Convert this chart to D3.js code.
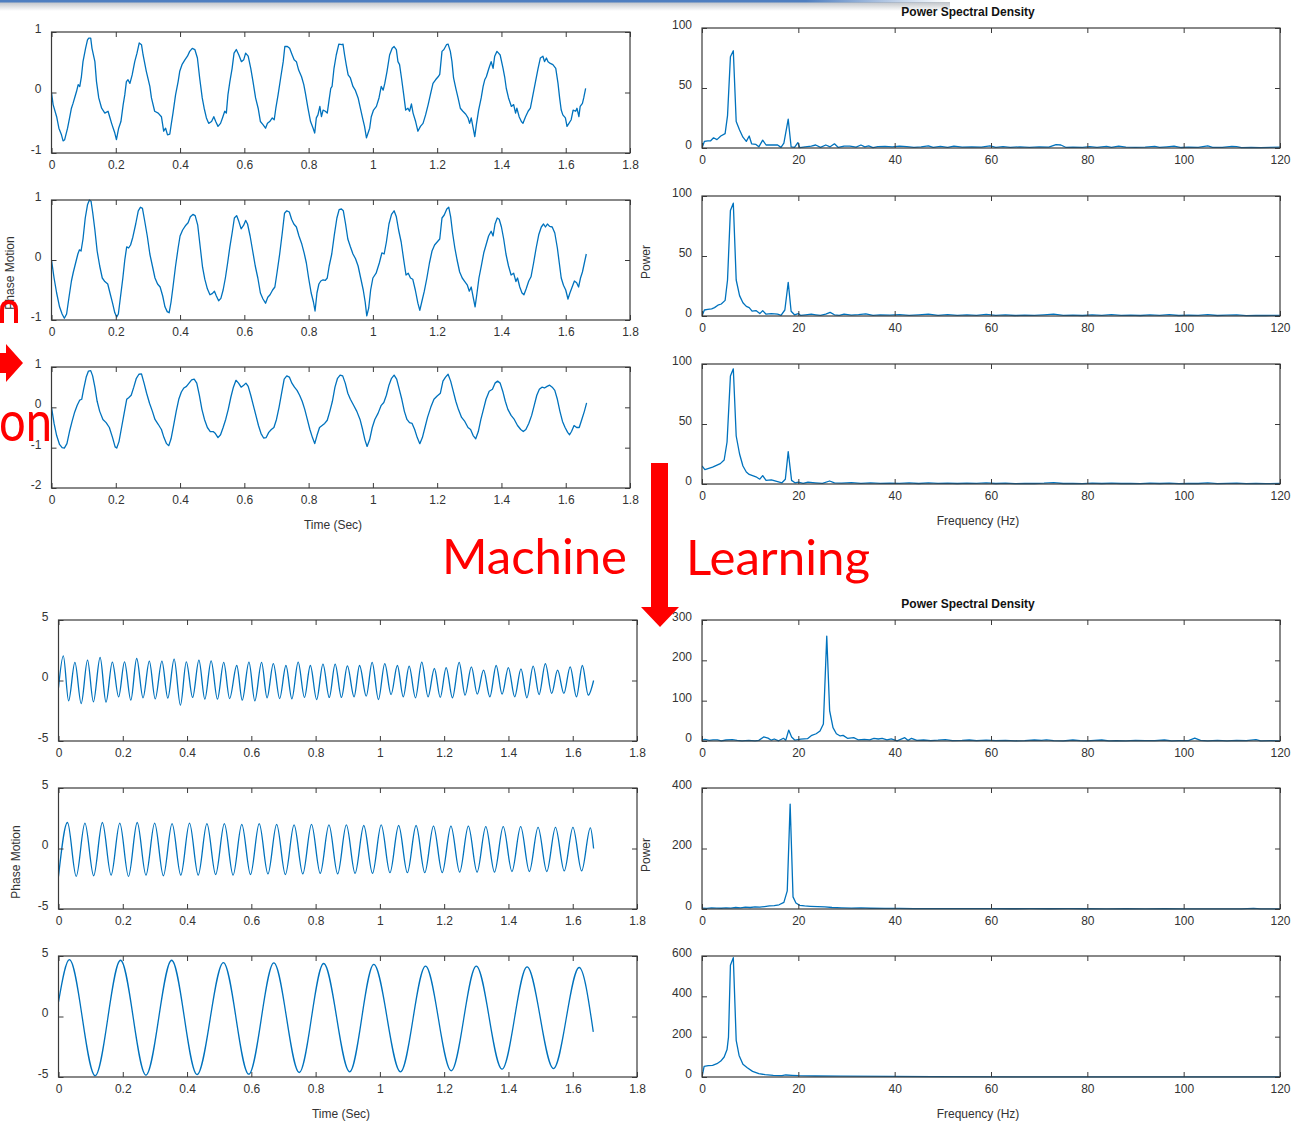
<!DOCTYPE html>
<html><head><meta charset="utf-8">
<script src="https://cdn.jsdelivr.net/npm/d3@7"></script>
<style>
html,body{margin:0;padding:0;background:#fff;}
svg{display:block;}
</style></head>
<body>
<svg id="chart" width="1297" height="1125"></svg>
<script>
// ---------------- DATA ----------------
const timeTicks = [0, 0.2, 0.4, 0.6, 0.8, 1, 1.2, 1.4, 1.6, 1.8];
const freqTicks = [0, 20, 40, 60, 80, 100, 120];
const ticksPhaseA = [-1, 0, 1];
const ticksPhaseB = [-2, -1, 0, 1];
const ticksPhaseC = [-5, 0, 5];
const ticksPow100 = [0, 50, 100];
const ticksPow300 = [0, 100, 200, 300];
const ticksPow400 = [0, 200, 400];
const ticksPow600 = [0, 200, 400, 600];

// [time (s), phase motion]
const ts1 = [[0,0],[0.005,-0.2],[0.016,-0.4],[0.023,-0.59],[0.031,-0.7],[0.036,-0.8],[0.041,-0.78],[0.05,-0.59],[0.057,-0.4],[0.062,-0.26],[0.067,-0.18],[0.073,-0.07],[0.078,0.02],[0.083,0.13],[0.088,0.1],[0.093,0.26],[0.098,0.51],[0.106,0.73],[0.112,0.87],[0.116,0.9],[0.122,0.9],[0.126,0.73],[0.135,0.51],[0.14,0.18],[0.147,-0.09],[0.156,-0.26],[0.166,-0.34],[0.176,-0.31],[0.181,-0.4],[0.187,-0.51],[0.192,-0.59],[0.197,-0.67],[0.202,-0.78],[0.209,-0.59],[0.216,-0.48],[0.223,-0.2],[0.228,-0.04],[0.233,0.18],[0.238,0.21],[0.244,0.15],[0.251,0.29],[0.259,0.51],[0.266,0.65],[0.273,0.82],[0.28,0.79],[0.285,0.62],[0.295,0.35],[0.306,0.1],[0.311,-0.09],[0.321,-0.31],[0.332,-0.34],[0.342,-0.4],[0.349,-0.64],[0.355,-0.59],[0.361,-0.7],[0.368,-0.69],[0.373,-0.51],[0.378,-0.34],[0.386,-0.04],[0.394,0.18],[0.399,0.35],[0.406,0.46],[0.415,0.54],[0.423,0.6],[0.43,0.68],[0.438,0.73],[0.446,0.71],[0.454,0.57],[0.461,0.24],[0.469,-0.09],[0.475,-0.26],[0.482,-0.42],[0.489,-0.51],[0.498,-0.48],[0.505,-0.4],[0.511,-0.48],[0.518,-0.56],[0.526,-0.51],[0.532,-0.42],[0.539,-0.31],[0.544,-0.34],[0.549,-0.04],[0.555,0.18],[0.562,0.4],[0.568,0.65],[0.575,0.71],[0.583,0.62],[0.591,0.51],[0.598,0.54],[0.604,0.65],[0.612,0.6],[0.62,0.4],[0.627,0.18],[0.635,-0.09],[0.643,-0.26],[0.65,-0.48],[0.658,-0.53],[0.666,-0.59],[0.672,-0.51],[0.679,-0.48],[0.687,-0.42],[0.693,-0.45],[0.698,-0.26],[0.705,-0.04],[0.713,0.24],[0.721,0.51],[0.726,0.76],[0.734,0.76],[0.741,0.73],[0.749,0.62],[0.755,0.54],[0.762,0.51],[0.769,0.37],[0.778,0.26],[0.785,0.13],[0.79,-0.01],[0.798,-0.26],[0.806,-0.48],[0.814,-0.59],[0.819,-0.67],[0.824,-0.42],[0.829,-0.37],[0.835,-0.23],[0.84,-0.4],[0.845,-0.29],[0.852,-0.31],[0.858,-0.34],[0.863,-0.15],[0.869,0.07],[0.873,0.1],[0.879,0.4],[0.886,0.62],[0.894,0.8],[0.904,0.79],[0.907,0.8],[0.912,0.62],[0.917,0.46],[0.923,0.29],[0.93,0.24],[0.938,0.1],[0.945,0.04],[0.954,-0.09],[0.961,-0.26],[0.969,-0.45],[0.974,-0.56],[0.98,-0.75],[0.985,-0.67],[0.99,-0.59],[0.995,-0.4],[1.002,-0.29],[1.011,-0.23],[1.019,-0.09],[1.026,0.1],[1.032,0.04],[1.037,0.15],[1.044,0.35],[1.052,0.62],[1.06,0.73],[1.066,0.76],[1.073,0.71],[1.078,0.51],[1.083,0.46],[1.089,0.24],[1.096,-0.04],[1.102,-0.29],[1.109,-0.26],[1.114,-0.31],[1.12,-0.19],[1.125,-0.34],[1.133,-0.48],[1.14,-0.64],[1.148,-0.56],[1.156,-0.51],[1.164,-0.37],[1.172,-0.2],[1.18,-0.01],[1.187,0.15],[1.195,0.21],[1.203,0.26],[1.208,0.3],[1.215,0.68],[1.221,0.71],[1.229,0.79],[1.234,0.8],[1.241,0.68],[1.246,0.51],[1.251,0.24],[1.258,0.07],[1.265,-0.09],[1.272,-0.26],[1.28,-0.31],[1.289,-0.36],[1.296,-0.42],[1.301,-0.51],[1.306,-0.42],[1.311,-0.56],[1.317,-0.73],[1.322,-0.53],[1.329,-0.29],[1.337,-0.09],[1.343,0.1],[1.348,0.21],[1.353,0.26],[1.361,0.4],[1.368,0.51],[1.374,0.4],[1.379,0.6],[1.386,0.68],[1.391,0.65],[1.396,0.62],[1.405,0.4],[1.41,0.26],[1.415,0.07],[1.422,-0.09],[1.431,-0.23],[1.438,-0.2],[1.444,-0.34],[1.448,-0.26],[1.455,-0.4],[1.462,-0.48],[1.467,-0.51],[1.475,-0.4],[1.483,-0.31],[1.49,-0.26],[1.498,-0.04],[1.506,0.18],[1.514,0.4],[1.521,0.57],[1.529,0.6],[1.534,0.51],[1.54,0.57],[1.545,0.51],[1.552,0.48],[1.56,0.46],[1.569,0.4],[1.576,0.15],[1.581,-0.09],[1.586,-0.29],[1.591,-0.37],[1.599,-0.42],[1.604,-0.56],[1.61,-0.51],[1.617,-0.45],[1.623,-0.29],[1.631,-0.31],[1.635,-0.26],[1.641,-0.4],[1.645,-0.23],[1.652,-0.18],[1.656,-0.09],[1.662,0.07]];

const ts2 = [[0,0],[0.008,-0.3],[0.016,-0.55],[0.025,-0.78],[0.033,-0.9],[0.04,-0.97],[0.047,-0.9],[0.055,-0.6],[0.062,-0.35],[0.068,-0.2],[0.075,-0.05],[0.082,0.1],[0.087,0.17],[0.092,0.15],[0.098,0.35],[0.105,0.7],[0.112,0.92],[0.118,1.0],[0.123,0.98],[0.128,0.8],[0.135,0.5],[0.142,0.15],[0.15,-0.1],[0.158,-0.3],[0.166,-0.36],[0.175,-0.4],[0.182,-0.55],[0.19,-0.72],[0.197,-0.88],[0.203,-0.95],[0.208,-0.9],[0.215,-0.6],[0.222,-0.3],[0.228,0.0],[0.234,0.22],[0.24,0.2],[0.246,0.25],[0.253,0.38],[0.262,0.6],[0.27,0.82],[0.277,0.88],[0.283,0.86],[0.29,0.65],[0.298,0.4],[0.306,0.1],[0.314,-0.1],[0.322,-0.3],[0.33,-0.4],[0.338,-0.45],[0.346,-0.6],[0.353,-0.78],[0.36,-0.86],[0.366,-0.88],[0.372,-0.7],[0.378,-0.45],[0.386,-0.1],[0.394,0.2],[0.4,0.4],[0.408,0.5],[0.418,0.58],[0.425,0.62],[0.432,0.72],[0.44,0.76],[0.447,0.74],[0.455,0.58],[0.462,0.25],[0.47,-0.12],[0.477,-0.32],[0.485,-0.48],[0.493,-0.58],[0.5,-0.56],[0.507,-0.52],[0.513,-0.6],[0.52,-0.68],[0.527,-0.64],[0.534,-0.5],[0.541,-0.3],[0.548,-0.05],[0.555,0.22],[0.562,0.45],[0.569,0.7],[0.576,0.74],[0.583,0.64],[0.59,0.52],[0.598,0.58],[0.604,0.66],[0.61,0.6],[0.618,0.4],[0.626,0.15],[0.634,-0.1],[0.642,-0.3],[0.65,-0.55],[0.658,-0.65],[0.666,-0.72],[0.673,-0.62],[0.68,-0.58],[0.688,-0.5],[0.695,-0.45],[0.702,-0.2],[0.71,0.1],[0.718,0.45],[0.725,0.78],[0.732,0.82],[0.74,0.8],[0.747,0.68],[0.754,0.6],[0.762,0.55],[0.77,0.4],[0.778,0.28],[0.786,0.12],[0.793,-0.05],[0.8,-0.3],[0.808,-0.55],[0.815,-0.7],[0.82,-0.85],[0.826,-0.55],[0.832,-0.4],[0.838,-0.35],[0.845,-0.33],[0.852,-0.34],[0.858,-0.3],[0.864,-0.1],[0.872,0.1],[0.88,0.42],[0.888,0.7],[0.895,0.84],[0.902,0.85],[0.908,0.82],[0.915,0.6],[0.922,0.35],[0.93,0.22],[0.938,0.1],[0.946,0.02],[0.954,-0.1],[0.962,-0.3],[0.97,-0.5],[0.976,-0.7],[0.981,-0.93],[0.987,-0.8],[0.993,-0.5],[1.0,-0.3],[1.01,-0.22],[1.02,-0.05],[1.028,0.12],[1.035,0.1],[1.042,0.3],[1.05,0.6],[1.058,0.76],[1.066,0.82],[1.073,0.72],[1.08,0.5],[1.088,0.3],[1.096,0.0],[1.103,-0.25],[1.11,-0.22],[1.117,-0.3],[1.124,-0.32],[1.132,-0.5],[1.14,-0.72],[1.146,-0.84],[1.152,-0.7],[1.16,-0.52],[1.168,-0.3],[1.176,-0.05],[1.184,0.15],[1.192,0.25],[1.2,0.3],[1.208,0.35],[1.215,0.7],[1.222,0.75],[1.23,0.85],[1.236,0.88],[1.242,0.72],[1.248,0.45],[1.255,0.2],[1.262,0.0],[1.27,-0.2],[1.278,-0.3],[1.286,-0.36],[1.294,-0.42],[1.3,-0.52],[1.306,-0.45],[1.312,-0.62],[1.318,-0.78],[1.324,-0.55],[1.33,-0.3],[1.338,-0.08],[1.345,0.12],[1.352,0.25],[1.36,0.4],[1.368,0.48],[1.374,0.4],[1.38,0.6],[1.387,0.7],[1.393,0.68],[1.4,0.55],[1.407,0.35],[1.414,0.1],[1.422,-0.1],[1.43,-0.25],[1.438,-0.22],[1.445,-0.36],[1.45,-0.3],[1.457,-0.45],[1.464,-0.55],[1.47,-0.58],[1.477,-0.48],[1.485,-0.35],[1.492,-0.28],[1.5,-0.05],[1.508,0.2],[1.516,0.42],[1.524,0.55],[1.531,0.6],[1.537,0.55],[1.543,0.6],[1.55,0.56],[1.558,0.55],[1.566,0.45],[1.574,0.2],[1.58,-0.05],[1.586,-0.3],[1.593,-0.42],[1.6,-0.5],[1.607,-0.65],[1.613,-0.55],[1.62,-0.45],[1.627,-0.35],[1.634,-0.38],[1.64,-0.45],[1.646,-0.3],[1.652,-0.2],[1.658,-0.05],[1.664,0.1]];

const ts3 = [[0,0],[0.008,-0.4],[0.016,-0.7],[0.025,-0.92],[0.033,-1.0],[0.04,-1.01],[0.048,-0.9],[0.056,-0.6],[0.064,-0.35],[0.072,-0.12],[0.08,0.05],[0.088,0.18],[0.094,0.2],[0.1,0.45],[0.108,0.75],[0.115,0.9],[0.122,0.91],[0.128,0.78],[0.135,0.5],[0.142,0.15],[0.15,-0.1],[0.16,-0.3],[0.17,-0.38],[0.18,-0.5],[0.19,-0.75],[0.198,-0.98],[0.203,-1.01],[0.21,-0.85],[0.218,-0.5],[0.226,-0.15],[0.234,0.2],[0.24,0.24],[0.248,0.3],[0.256,0.5],[0.264,0.72],[0.272,0.82],[0.28,0.83],[0.288,0.6],[0.296,0.35],[0.305,0.1],[0.314,-0.1],[0.322,-0.3],[0.332,-0.42],[0.342,-0.55],[0.35,-0.75],[0.358,-0.9],[0.365,-0.95],[0.372,-0.78],[0.38,-0.45],[0.388,-0.1],[0.396,0.2],[0.404,0.38],[0.412,0.48],[0.42,0.52],[0.428,0.6],[0.436,0.68],[0.444,0.7],[0.452,0.6],[0.46,0.3],[0.468,-0.05],[0.476,-0.3],[0.485,-0.5],[0.494,-0.6],[0.503,-0.6],[0.51,-0.65],[0.518,-0.75],[0.526,-0.68],[0.534,-0.5],[0.542,-0.3],[0.55,-0.05],[0.558,0.25],[0.566,0.5],[0.574,0.67],[0.582,0.6],[0.59,0.5],[0.598,0.55],[0.605,0.6],[0.612,0.52],[0.62,0.3],[0.628,0.05],[0.636,-0.2],[0.644,-0.45],[0.652,-0.65],[0.66,-0.76],[0.668,-0.75],[0.676,-0.62],[0.684,-0.55],[0.692,-0.5],[0.7,-0.3],[0.708,0.0],[0.716,0.35],[0.724,0.7],[0.732,0.78],[0.74,0.75],[0.748,0.6],[0.756,0.5],[0.764,0.42],[0.772,0.3],[0.78,0.15],[0.788,-0.05],[0.796,-0.3],[0.804,-0.55],[0.812,-0.75],[0.819,-0.9],[0.826,-0.7],[0.834,-0.5],[0.842,-0.45],[0.85,-0.4],[0.858,-0.32],[0.866,-0.1],[0.874,0.15],[0.882,0.5],[0.89,0.72],[0.898,0.8],[0.906,0.78],[0.914,0.6],[0.922,0.35],[0.93,0.2],[0.94,0.05],[0.95,-0.1],[0.96,-0.3],[0.968,-0.55],[0.975,-0.8],[0.982,-0.97],[0.99,-0.8],[0.998,-0.5],[1.006,-0.3],[1.016,-0.15],[1.026,0.05],[1.034,0.12],[1.042,0.3],[1.05,0.55],[1.058,0.72],[1.066,0.8],[1.074,0.7],[1.082,0.45],[1.09,0.2],[1.098,-0.1],[1.106,-0.3],[1.114,-0.38],[1.122,-0.4],[1.13,-0.55],[1.138,-0.75],[1.146,-0.9],[1.154,-0.75],[1.162,-0.5],[1.17,-0.25],[1.18,0.0],[1.19,0.2],[1.2,0.28],[1.21,0.35],[1.218,0.65],[1.226,0.75],[1.234,0.82],[1.242,0.65],[1.25,0.4],[1.258,0.15],[1.266,-0.05],[1.276,-0.25],[1.286,-0.35],[1.296,-0.5],[1.304,-0.55],[1.312,-0.7],[1.32,-0.78],[1.328,-0.6],[1.336,-0.3],[1.344,-0.05],[1.352,0.2],[1.362,0.4],[1.372,0.45],[1.38,0.6],[1.388,0.65],[1.396,0.6],[1.404,0.4],[1.412,0.15],[1.42,-0.05],[1.43,-0.2],[1.44,-0.3],[1.45,-0.45],[1.46,-0.55],[1.468,-0.6],[1.476,-0.55],[1.485,-0.4],[1.494,-0.2],[1.502,0.05],[1.51,0.3],[1.518,0.45],[1.526,0.5],[1.534,0.48],[1.542,0.52],[1.55,0.55],[1.558,0.5],[1.566,0.42],[1.574,0.2],[1.582,-0.1],[1.59,-0.35],[1.598,-0.5],[1.606,-0.62],[1.612,-0.68],[1.618,-0.6],[1.626,-0.45],[1.634,-0.5],[1.642,-0.5],[1.65,-0.3],[1.658,-0.1],[1.665,0.11]];

// extrema of the filtered signals (bottom section)
const ts4 = [[0,-0.6],[0.015,2.04],[0.0314,-1.68],[0.051,1.49],[0.0706,-1.9],[0.0903,1.68],[0.1086,-1.76],[0.1295,1.9],[0.1478,-1.79],[0.1675,1.52],[0.1871,-1.35],[0.2054,1.54],[0.225,-1.63],[0.2433,1.82],[0.263,-1.43],[0.2826,1.6],[0.3009,-1.52],[0.3218,1.6],[0.3401,-1.46],[0.3598,1.76],[0.3794,-2.04],[0.3977,1.54],[0.4173,-1.4],[0.4369,1.68],[0.4553,-1.54],[0.4749,1.63],[0.4945,-1.54],[0.5141,1.49],[0.5324,-1.49],[0.5547,1.24],[0.5717,-1.63],[0.5926,1.52],[0.6109,-1.68],[0.6319,1.49],[0.6489,-1.43],[0.6685,1.4],[0.6881,-1.49],[0.7077,1.24],[0.7261,-1.52],[0.7457,1.52],[0.7653,-1.4],[0.7836,1.24],[0.8032,-1.57],[0.8229,1.35],[0.8425,-1.4],[0.8608,1.35],[0.8804,-1.4],[0.8988,1.21],[0.9197,-1.35],[0.9367,1.24],[0.9576,-1.29],[0.9759,1.49],[0.9955,-1.57],[1.0152,1.4],[1.0348,-1.16],[1.0544,1.24],[1.0727,-1.35],[1.091,1.18],[1.1107,-1.43],[1.1303,1.52],[1.1499,-1.35],[1.1695,0.99],[1.1879,-1.4],[1.2062,1.07],[1.2258,-1.43],[1.2467,1.49],[1.265,-1.21],[1.2847,1.13],[1.303,-1.13],[1.3226,0.85],[1.3422,-1.35],[1.3619,1.24],[1.3802,-1.13],[1.3998,1.07],[1.4194,-1.35],[1.439,0.96],[1.4574,-1.43],[1.477,1.18],[1.4953,-1.16],[1.5149,1.4],[1.5345,-1.07],[1.5529,0.85],[1.5725,-1.07],[1.5921,1.13],[1.6117,-1.35],[1.63,1.24],[1.6484,-1.21],[1.665,0]];

const ts5 = [[0,-2.3],[0.028,2.15],[0.0551,-2.3],[0.0822,2.1],[0.1094,-2.25],[0.1365,2.15],[0.1636,-2.2],[0.1907,2.1],[0.2178,-2.3],[0.2449,2.15],[0.2721,-2.2],[0.2992,2.1],[0.3263,-2.25],[0.3534,2.05],[0.3805,-2.2],[0.4076,2.1],[0.4347,-2.2],[0.4618,2.05],[0.489,-2.15],[0.5161,2.05],[0.5432,-2.2],[0.5703,2.0],[0.5974,-2.15],[0.6245,2.05],[0.6517,-2.1],[0.6788,2.0],[0.7059,-2.15],[0.733,1.95],[0.7601,-2.1],[0.7872,2.0],[0.8144,-2.05],[0.8415,1.95],[0.8686,-2.1],[0.8957,1.95],[0.9228,-2.05],[0.9499,1.9],[0.977,-2.05],[1.0041,1.95],[1.0313,-2.0],[1.0584,1.9],[1.0855,-2.0],[1.1126,1.9],[1.1397,-2.0],[1.1668,1.85],[1.194,-2.0],[1.2211,1.85],[1.2482,-1.95],[1.2753,1.85],[1.3024,-1.95],[1.3295,1.8],[1.3566,-1.95],[1.3838,1.8],[1.4109,-1.9],[1.438,1.8],[1.4651,-1.9],[1.4922,1.75],[1.5193,-1.9],[1.5464,1.75],[1.5736,-1.85],[1.6007,1.75],[1.6278,-1.85],[1.6549,1.7],[1.665,0]];

const ts6 = [[0,1.2],[0.034,4.7],[0.114,-4.9],[0.193,4.65],[0.272,-4.85],[0.352,4.65],[0.431,-4.8],[0.513,4.46],[0.592,-4.77],[0.67,4.43],[0.749,-4.63],[0.825,4.38],[0.906,-4.57],[0.981,4.3],[1.064,-4.57],[1.142,4.16],[1.222,-4.49],[1.3,4.16],[1.38,-4.35],[1.458,4.1],[1.54,-4.3],[1.62,4.05],[1.664,-1.27]];

// [frequency (Hz), power]
const psd1 = [[0,0],[0.5,5.5],[1.2,6],[1.8,6],[2.4,8.5],[3.1,7],[3.9,10],[4.8,12],[5.3,27],[5.9,76],[6.5,81],[7.1,22],[7.8,15],[8.5,9],[9.2,5.5],[9.8,10],[10.3,3.5],[11.2,3],[11.8,1],[12.6,6.5],[13.3,2.5],[14.4,2.5],[15.7,2.5],[16.4,0.5],[17,4],[17.9,24],[18.5,1],[19.2,0.5],[19.9,4.5],[20.3,0.3],[21.4,1],[22.7,1.5],[23.6,2.5],[24.6,0.5],[25.7,2.5],[26.6,1],[27.5,3.5],[28.3,0.5],[29.5,1.5],[30.7,1.5],[32,0.8],[33,2.5],[33.8,1],[34.6,1.8],[35.5,0.3],[36.5,1.2],[38,1.3],[39.5,1],[41,1.5],[42.5,1.2],[44,0.6],[45.5,1],[47,1.8],[48,0.5],[49.5,1.4],[51,0.6],[52.3,1.5],[54,0.8],[56,1],[58,0.7],[59.8,1.7],[61,0.6],[62.5,1.2],[64,0.5],[66,1],[68,0.6],[70,1],[72,0.7],[73.5,2.8],[74.5,2.5],[75.5,0.6],[77,0.8],[79,0.5],[80.5,1.2],[82,0.6],[84,1.3],[85,0.5],[86.5,1.6],[88,0.7],[90,0.6],[92,0.8],[94,1.3],[95,0.5],[96.5,1],[98,1.5],[99.5,0.4],[101,0.8],[103,0.6],[105,1.7],[106,0.5],[108,0.6],[110,1.3],[111,1.2],[112,0.3],[114,0.6],[116,0.3],[118,0.6],[120,0.8]];

const psd2 = [[0,0],[0.5,5],[1.2,5.5],[2,6],[2.6,7],[3.3,9],[4,10],[4.8,13],[5.3,30],[5.9,88],[6.5,94],[7.1,30],[7.8,17],[8.5,11],[9.2,8],[9.8,7],[10.4,4],[11.2,4.5],[12,2],[12.6,4.5],[13.3,1.5],[14.4,2],[15.7,1.5],[16.4,0.5],[17.2,5],[17.9,28],[18.5,4],[19.2,1],[20,2],[20.5,0.5],[21.5,1],[22.7,1.5],[23.6,1],[24.6,0.5],[25.7,1.5],[26.6,3],[27.5,1],[28.5,0.5],[29.5,1.5],[31,0.8],[32.5,1.2],[34,1.8],[35.5,0.5],[37,1],[39,0.8],[41,1.2],[43,0.5],[45,1],[47,1.5],[49,0.6],[51,1.2],[53,0.5],[55,0.9],[57,0.6],[59,1.4],[61,0.5],[63,1],[65,0.4],[67,0.8],[69,0.5],[71,1],[73,1.5],[75,0.6],[77,0.8],[79,0.4],[81,1],[83,0.5],[85,1.2],[87,0.6],[89,0.8],[91,0.4],[93,1],[95,0.6],[97,1.2],[99,0.4],[101,0.8],[103,0.5],[105,1.2],[107,0.4],[109,0.8],[111,1],[113,0.3],[115,0.6],[117,0.4],[120,0.6]];

const psd3 = [[0,15],[0.6,12],[1.4,13],[2.2,14],[3,15.5],[3.8,17],[4.6,20],[5.2,35],[5.9,90],[6.5,96],[7.1,40],[7.8,25],[8.5,15],[9.2,10],[9.8,8],[10.5,7],[11.2,6],[12,4],[12.6,7],[13.3,3],[14.4,3.5],[15.7,2],[16.6,1],[17.3,4],[17.9,27],[18.6,3],[19.3,1],[20,1.5],[21,0.5],[22,1.5],[23.5,1],[25,0.5],[26.5,2.5],[27.5,1],[29,0.8],[31,1.2],[33,0.6],[35,1],[37,0.5],[39,0.8],[41,0.6],[43,1],[45,0.4],[47,0.9],[49,0.5],[51,0.8],[53,0.4],[55,0.7],[57,0.5],[59,0.9],[61,0.4],[63,0.7],[65,0.3],[67,0.6],[69,0.4],[71,0.7],[73,1.2],[75,0.4],[77,0.6],[79,0.3],[81,0.7],[83,0.4],[85,0.8],[87,0.4],[89,0.6],[91,0.3],[93,0.7],[95,0.4],[97,0.8],[99,0.3],[101,0.6],[103,0.4],[105,0.9],[107,0.3],[109,0.6],[111,0.8],[113,0.3],[115,0.5],[117,0.3],[120,0.5]];

const psd4 = [[0,2],[0.6,4],[1.5,1.7],[2.3,3],[3.2,3],[4,0.5],[5,2.5],[6.3,3.3],[7.3,1.7],[8.3,0.5],[9.7,1.7],[11,0.5],[11.8,1.5],[12.8,10],[13.7,7],[14.4,2],[15,5],[15.9,0.5],[16.9,6.7],[17.4,2],[18,27],[18.6,10],[19.3,2],[20.5,4.5],[21.9,5.8],[22.8,14],[23.7,18],[24.5,25],[25.2,42],[25.9,260],[26.5,75],[27.2,33],[27.9,18],[28.7,12.5],[29.3,14],[30.2,6.7],[31.5,8.3],[32.4,3],[33.7,4],[34.8,3],[35.7,6.7],[36.6,5],[37.4,6.5],[38.4,3],[39.3,5],[40.5,0.5],[42.1,8.3],[42.8,1.5],[43.5,6.7],[44.6,1.5],[46,2.5],[47.5,1],[49,2],[50.5,3.5],[52,1],[54,1.5],[55.5,2.5],[57,1],[59,2],[61,1],[63,1.5],[65,0.5],[67,1],[69,2.5],[70.5,1.5],[71.5,3],[73,1],[75,0.5],[77,2.5],[78.5,1],[80,0.5],[81.5,1.5],[83,2.5],[84.5,0.5],[86,1],[88,0.5],[90,1.5],[92,1],[94,0.8],[96,2.5],[97.5,0.5],[99,1],[101,1],[102.3,7],[103.5,1.5],[105,0.5],[107,1.5],[109,0.5],[111,1.5],[113,0.8],[115,3.5],[116,0.5],[118,0.8],[120,0.5]];

const psd5 = [[0,3],[1,2],[2,4],[3,3],[4,2.5],[5,4],[6,3],[7,5],[8,4],[9,6],[10,5],[11,7],[12,6],[13,8],[14,10],[15,11],[16,14],[17,22],[17.7,60],[18.3,347],[18.9,40],[19.5,20],[20.3,12],[21.3,10],[22.5,9],[24,8],[25.5,7],[27,5],[29,4],[31,3],[33,3.5],[35,2.5],[38,2],[41,2],[44,1.5],[48,1.5],[52,1],[56,1],[60,1.2],[64,0.8],[68,1],[72,0.8],[76,1],[80,0.8],[84,0.7],[88,0.8],[92,0.6],[96,0.8],[100,0.6],[104,0.6],[108,0.5],[112,0.6],[114.5,2],[116,0.5],[120,0.5]];

const psd6 = [[0,0],[0.44,53],[1.3,56],[2.2,58],[3.1,66],[3.9,79],[4.6,99],[5.2,136],[5.5,198],[5.9,554],[6.5,592],[7.1,182],[7.7,107],[8.5,63],[9.4,46],[10.5,28],[11.8,16.5],[13.1,11.6],[14.8,8.3],[16.6,6.6],[17.4,10],[18.7,8],[20,6.6],[23.5,5],[28.8,4],[39.2,3],[47.9,2],[65,1],[90,0.7],[120,0.5]];

// ---------------- DRAWING ----------------
const svg = d3.select("#chart");
const FONT = "'Liberation Sans', Arial, Helvetica, sans-serif";
const AXIS_COLOR = "#3a3a3a";
const TEXT_COLOR = "#333";
const LINE_COLOR = "#0072BD";

// slide header remnant at the very top
const defs = svg.append("defs");
const gShade = defs.append("linearGradient").attr("id","shade").attr("x1",0).attr("y1",0).attr("x2",0).attr("y2",1);
gShade.append("stop").attr("offset","0%").attr("stop-color","#bfc3c8");
gShade.append("stop").attr("offset","100%").attr("stop-color","#ffffff");
const gFade = defs.append("linearGradient").attr("id","fade").attr("x1",0).attr("y1",0).attr("x2",1).attr("y2",0);
gFade.append("stop").attr("offset","0%").attr("stop-color","#4f7fc0").attr("stop-opacity",1);
gFade.append("stop").attr("offset","85%").attr("stop-color","#4f7fc0").attr("stop-opacity",1);
gFade.append("stop").attr("offset","100%").attr("stop-color","#4f7fc0").attr("stop-opacity",0);
svg.append("rect").attr("x",0).attr("y",2).attr("width",950).attr("height",9).attr("fill","url(#shade)");
svg.append("rect").attr("x",0).attr("y",0).attr("width",948).attr("height",2.5).attr("fill","url(#fade)");

const fmtTime = d => String(+d.toFixed(1));
const fmtInt = d => String(d);

const panels = [
  {data: ts1, x0:51.5, x1:630, y0:32, y1:153, xd:[0,1.8], yd:[-1,1], xt:timeTicks, yt:ticksPhaseA, fmt:fmtTime, curve:d3.curveLinear},
  {data: ts2, x0:51.5, x1:630, y0:200, y1:320, xd:[0,1.8], yd:[-1,1], xt:timeTicks, yt:ticksPhaseA, fmt:fmtTime, curve:d3.curveLinear},
  {data: ts3, x0:51.5, x1:630, y0:367, y1:488, xd:[0,1.8], yd:[-2,1], xt:timeTicks, yt:ticksPhaseB, fmt:fmtTime, curve:d3.curveLinear},
  {data: psd1, x0:702, x1:1280, y0:28, y1:148, xd:[0,120], yd:[0,100], xt:freqTicks, yt:ticksPow100, fmt:fmtInt, curve:d3.curveLinear},
  {data: psd2, x0:702, x1:1280, y0:196, y1:316, xd:[0,120], yd:[0,100], xt:freqTicks, yt:ticksPow100, fmt:fmtInt, curve:d3.curveLinear},
  {data: psd3, x0:702, x1:1280, y0:364, y1:484, xd:[0,120], yd:[0,100], xt:freqTicks, yt:ticksPow100, fmt:fmtInt, curve:d3.curveLinear},
  {data: ts4, x0:58.5, x1:637, y0:620, y1:741, xd:[0,1.8], yd:[-5,5], xt:timeTicks, yt:ticksPhaseC, fmt:fmtTime, curve:d3.curveMonotoneX},
  {data: ts5, x0:58.5, x1:637, y0:788, y1:909, xd:[0,1.8], yd:[-5,5], xt:timeTicks, yt:ticksPhaseC, fmt:fmtTime, curve:d3.curveMonotoneX},
  {data: ts6, x0:58.5, x1:637, y0:956, y1:1077, xd:[0,1.8], yd:[-5,5], xt:timeTicks, yt:ticksPhaseC, fmt:fmtTime, curve:d3.curveMonotoneX},
  {data: psd4, x0:702, x1:1280, y0:620, y1:741, xd:[0,120], yd:[0,300], xt:freqTicks, yt:ticksPow300, fmt:fmtInt, curve:d3.curveLinear},
  {data: psd5, x0:702, x1:1280, y0:788, y1:909, xd:[0,120], yd:[0,400], xt:freqTicks, yt:ticksPow400, fmt:fmtInt, curve:d3.curveLinear},
  {data: psd6, x0:702, x1:1280, y0:956, y1:1077, xd:[0,120], yd:[0,600], xt:freqTicks, yt:ticksPow600, fmt:fmtInt, curve:d3.curveLinear}
];

panels.forEach((p, i) => {
  const x = d3.scaleLinear().domain(p.xd).range([p.x0, p.x1]);
  const y = d3.scaleLinear().domain(p.yd).range([p.y1, p.y0]);
  const g = svg.append("g");
  const clipId = "clip" + i;
  defs.append("clipPath").attr("id", clipId).append("rect")
    .attr("x", p.x0).attr("y", p.y0 - 1).attr("width", p.x1 - p.x0).attr("height", p.y1 - p.y0 + 2);

  // data line
  g.append("path").datum(p.data)
    .attr("clip-path", `url(#${clipId})`)
    .attr("fill", "none").attr("stroke", LINE_COLOR).attr("stroke-width", 1.3)
    .attr("stroke-linejoin", "round")
    .attr("d", d3.line().x(d => x(d[0])).y(d => y(d[1])).curve(p.curve));

  const styleAxis = (sel) => {
    sel.select(".domain").remove();
    sel.selectAll(".tick line").attr("stroke", AXIS_COLOR).attr("stroke-width", 1);
    sel.selectAll("text").attr("fill", TEXT_COLOR).style("font-family", FONT).style("font-size", "12px");
  };
  // bottom axis (ticks inward)
  g.append("g").attr("transform", `translate(0,${p.y1})`)
    .call(d3.axisBottom(x).tickValues(p.xt).tickFormat(p.fmt).tickSize(-5).tickPadding(7))
    .call(styleAxis);
  // top ticks
  g.append("g").attr("transform", `translate(0,${p.y0})`)
    .call(d3.axisTop(x).tickValues(p.xt).tickFormat("").tickSize(-5))
    .call(styleAxis);
  // left axis
  g.append("g").attr("transform", `translate(${p.x0},0)`)
    .call(d3.axisLeft(y).tickValues(p.yt).tickFormat(fmtInt).tickSize(-5).tickPadding(10))
    .call(styleAxis)
    .call(s => s.selectAll("text").attr("y", -3.5));
  // right ticks
  g.append("g").attr("transform", `translate(${p.x1},0)`)
    .call(d3.axisRight(y).tickValues(p.yt).tickFormat("").tickSize(-5))
    .call(styleAxis);
  // box
  g.append("rect").attr("x", p.x0).attr("y", p.y0)
    .attr("width", p.x1 - p.x0).attr("height", p.y1 - p.y0)
    .attr("fill", "none").attr("stroke", AXIS_COLOR).attr("stroke-width", 1.2);
});

// axis labels and titles
const label = (txt, x, y, opts = {}) => {
  const t = svg.append("text").text(txt)
    .attr("x", x).attr("y", y)
    .attr("text-anchor", "middle").attr("dominant-baseline", "central")
    .attr("fill", opts.color || TEXT_COLOR)
    .style("font-family", FONT).style("font-size", (opts.size || 12) + "px")
    .style("font-weight", opts.bold ? "bold" : "normal");
  if (opts.rotate) t.attr("transform", `rotate(-90,${x},${y})`);
  return t;
};
label("Power Spectral Density", 968, 12, {bold: true, color: "#111"});
label("Power Spectral Density", 968, 604, {bold: true, color: "#111"});
label("Time (Sec)", 333, 525);
label("Time (Sec)", 341, 1114);
label("Frequency (Hz)", 978, 521);
label("Frequency (Hz)", 978, 1114);
label("Phase Motion", 10, 273, {rotate: true});
label("Phase Motion", 16, 862, {rotate: true});
label("Power", 646, 262, {rotate: true});
label("Power", 646, 855, {rotate: true});

// red slide annotations
const RED = "#FF0000";
const RFONT = "Lato, 'Open Sans', sans-serif";
svg.append("path").attr("d", "M2,323 L2,310 Q2,302 9,302 Q16,302 16,310 L16,323")
  .attr("fill", "none").attr("stroke", RED).attr("stroke-width", 4);
svg.append("path").attr("d", "M0,353 L6,353 L6,344 L23,363 L6,382 L6,373 L0,373 Z").attr("fill", RED);
svg.append("text").text("on").attr("x", -1).attr("y", 441)
  .attr("fill", RED).style("font-family", RFONT).style("font-size", "56px")
  .attr("textLength", 53).attr("lengthAdjust", "spacingAndGlyphs");
svg.append("text").text("Machine").attr("x", 442).attr("y", 574)
  .attr("fill", RED).style("font-family", RFONT).style("font-size", "49px")
  .attr("textLength", 185).attr("lengthAdjust", "spacingAndGlyphs");
svg.append("text").text("Learning").attr("x", 686).attr("y", 575)
  .attr("fill", RED).style("font-family", RFONT).style("font-size", "49px")
  .attr("textLength", 184).attr("lengthAdjust", "spacingAndGlyphs");
svg.append("path").attr("d", "M651,463 L668,463 L668,607 L679,607 L660,627 L641,607 L651,607 Z").attr("fill", RED);
</script>
</body></html>
